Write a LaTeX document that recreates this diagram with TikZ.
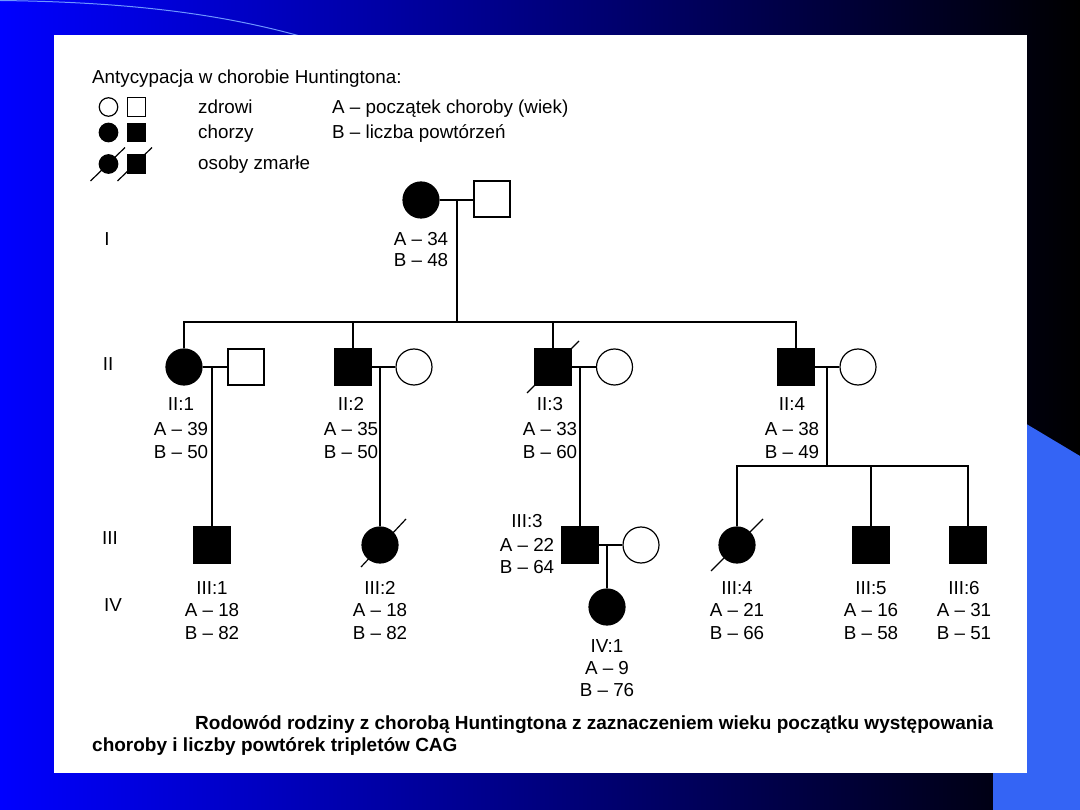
\documentclass[tikz,border=0pt]{standalone}
\usepackage{fontspec}
\setmainfont{Liberation Sans}
\usepackage{graphicx}
\definecolor{slideblue}{RGB}{0,0,255}
\definecolor{accentblue}{RGB}{52,100,245}
\definecolor{curveblue}{RGB}{110,150,255}
\newcommand\labfont{\fontsize{18.8}{22}\selectfont}
\newcommand\capfont{\fontsize{19}{22}\selectfont\bfseries}
\begin{document}
\begin{tikzpicture}[x=1pt,y=-1pt,
  ln/.style={line width=1.2pt,line cap=butt},
  fem/.style={circle,draw=black,line width=1.2pt,fill=white,minimum size=36pt,inner sep=0pt},
  mal/.style={rectangle,draw=black,line width=1.2pt,fill=white,minimum size=36pt,inner sep=0pt},
  lfem/.style={fem,minimum size=18.5pt},
  lmal/.style={mal,minimum size=18.5pt},
  aff/.style={fill=black},
  lab/.style={font=\labfont,anchor=base,inner sep=0pt},
  labw/.style={font=\labfont,anchor=base west,inner sep=0pt},
  captxt/.style={font=\capfont,anchor=base west,inner sep=0pt}]
\useasboundingbox (0,0) rectangle (1080,810);
% slide background
\shade[left color=slideblue,right color=black] (0,0) rectangle (1080,810);
\fill[accentblue] (993,404) -- (1080,456) -- (1080,810) -- (993,810) -- cycle;
\draw[curveblue,line width=1pt] (0,0.5) .. controls (130,2) and (220,14) .. (300,36);
\fill[white] (54,35.5) rectangle (1027,773);

% title and legend
\node[labw] (title) at (92,84) {Antycypacja w chorobie Huntingtona:};
\node[lfem] (L1c) at (108.5,107) {};
\node[lmal] (L1s) at (136.5,107) {};
\node[lfem,aff] (L2c) at (108.5,132.5) {};
\node[lmal,aff] (L2s) at (136.5,132.5) {};
\node[lfem,aff] (L3c) at (108.5,164) {};
\node[lmal,aff] (L3s) at (136.5,164) {};
\draw[ln] (L3c) ++(-18,17) -- ++(34.5,-33.5);
\draw[ln] (L3s) ++(-19,17) -- ++(34.5,-33.5);
\node[labw] (t1) at (198,114) {zdrowi};
\node[labw] (t2) at (198,138.5) {chorzy};
\node[labw] (t3) at (198,170) {osoby zmarłe};
\node[labw] (t4) at (332,114) {A – początek choroby (wiek)};
\node[labw] (t5) at (332,138.5) {B – liczba powtórzeń};

% generation labels
\node[lab] (gI) at (107,246) {I};
\node[lab] (gII) at (108,371) {II};
\node[lab] (gIII) at (110,544) {III};
\node[lab] (gIV) at (113,611) {IV};

% generation I
\node[fem,aff] (I1) at (421,200) {};
\node[mal] (I2) at (492,199) {};
\coordinate (m1) at (457,200);
\coordinate (s1) at (457,322);
\draw[ln] (I1.east) -- (I2.west |- I1.east);
\draw[ln] (m1) -- (s1);
\node[lab] at (421,246) {A – 34};
\node[lab] at (421,267) {B – 48};

% generation II
\node[fem,aff] (II1) at (184,367) {};
\node[mal] (II1s) at (246,367) {};
\node[mal,aff] (II2) at (353,367) {};
\node[fem] (II2s) at (414,367) {};
\node[mal,aff] (II3) at (553,367) {};
\node[fem] (II3s) at (614.5,367) {};
\node[mal,aff] (II4) at (796,367) {};
\node[fem] (II4s) at (858,367) {};
\draw[ln] (II1.north) -- (II1.north |- s1) -- (II4.north |- s1) -- (II4.north);
\draw[ln] (II2.north) -- (II2.north |- s1);
\draw[ln] (II3.north) -- (II3.north |- s1);
\draw[ln] (II3) ++(-26,26) -- ++(52,-52);
\draw[ln] (II1.east) -- (II1s.west);
\draw[ln] (II2.east) -- (II2s.west);
\draw[ln] (II3.east) -- (II3s.west);
\draw[ln] (II4.east) -- (II4s.west);

\node[lab] at (181,411) {II:1};
\node[lab] at (181,436) {A – 39};
\node[lab] at (181,459) {B – 50};
\node[lab] at (351,411) {II:2};
\node[lab] at (351,436) {A – 35};
\node[lab] at (351,459) {B – 50};
\node[lab] at (550,411) {II:3};
\node[lab] at (550,436) {A – 33};
\node[lab] at (550,459) {B – 60};
\node[lab] at (792,411) {II:4};
\node[lab] at (792,436) {A – 38};
\node[lab] at (792,459) {B – 49};

% generation III
\node[mal,aff] (III1) at (212,545) {};
\node[fem,aff] (III2) at (380,545) {};
\node[mal,aff] (III3) at (580,545) {};
\node[fem] (III3s) at (641,545) {};
\node[fem,aff] (III4) at (737,545) {};
\node[mal,aff] (III5) at (871,545) {};
\node[mal,aff] (III6) at (968,545) {};
\coordinate (m21) at (212,367);
\coordinate (m22) at (380,367);
\coordinate (m23) at (580,367);
\coordinate (m24) at (827,367);
\coordinate (s4) at (827,466);
\draw[ln] (m21) -- (III1.north);
\draw[ln] (m22) -- (III2.north);
\draw[ln] (m23) -- (III3.north);
\draw[ln] (m24) -- (s4);
\draw[ln] (III4.north) -- (III4.north |- s4) -- (III6.north |- s4) -- (III6.north);
\draw[ln] (III5.north) -- (III5.north |- s4);
\draw[ln] (III2) ++(-19,22) -- ++(45,-48);
\draw[ln] (III4) ++(-26,26) -- ++(52,-52);
\draw[ln] (III3.east) -- (III3s.west);

\node[lab] at (212,594) {III:1};
\node[lab] at (212,616) {A – 18};
\node[lab] at (212,639) {B – 82};
\node[lab] at (380,594) {III:2};
\node[lab] at (380,616) {A – 18};
\node[lab] at (380,639) {B – 82};
\node[lab] at (527,527) {III:3};
\node[lab] at (527,551) {A – 22};
\node[lab] at (527,573) {B – 64};
\node[lab] at (737,594) {III:4};
\node[lab] at (737,616) {A – 21};
\node[lab] at (737,639) {B – 66};
\node[lab] at (871,594) {III:5};
\node[lab] at (871,616) {A – 16};
\node[lab] at (871,639) {B – 58};
\node[lab] at (964,594) {III:6};
\node[lab] at (964,616) {A – 31};
\node[lab] at (964,639) {B – 51};

% generation IV
\node[fem,aff] (IV1) at (607,607) {};
\coordinate (m33) at (607,545);
\draw[ln] (m33) -- (IV1.north);
\node[lab] at (607,652) {IV:1};
\node[lab] at (607,674) {A – 9};
\node[lab] at (607,696) {B – 76};

% caption
\node[captxt] (c1) at (195,729) {Rodowód rodziny z chorobą Huntingtona z zaznaczeniem wieku początku występowania};
\node[captxt] (c2) at (92,751) {choroby i liczby powtórek tripletów CAG};
\end{tikzpicture}
\end{document}
